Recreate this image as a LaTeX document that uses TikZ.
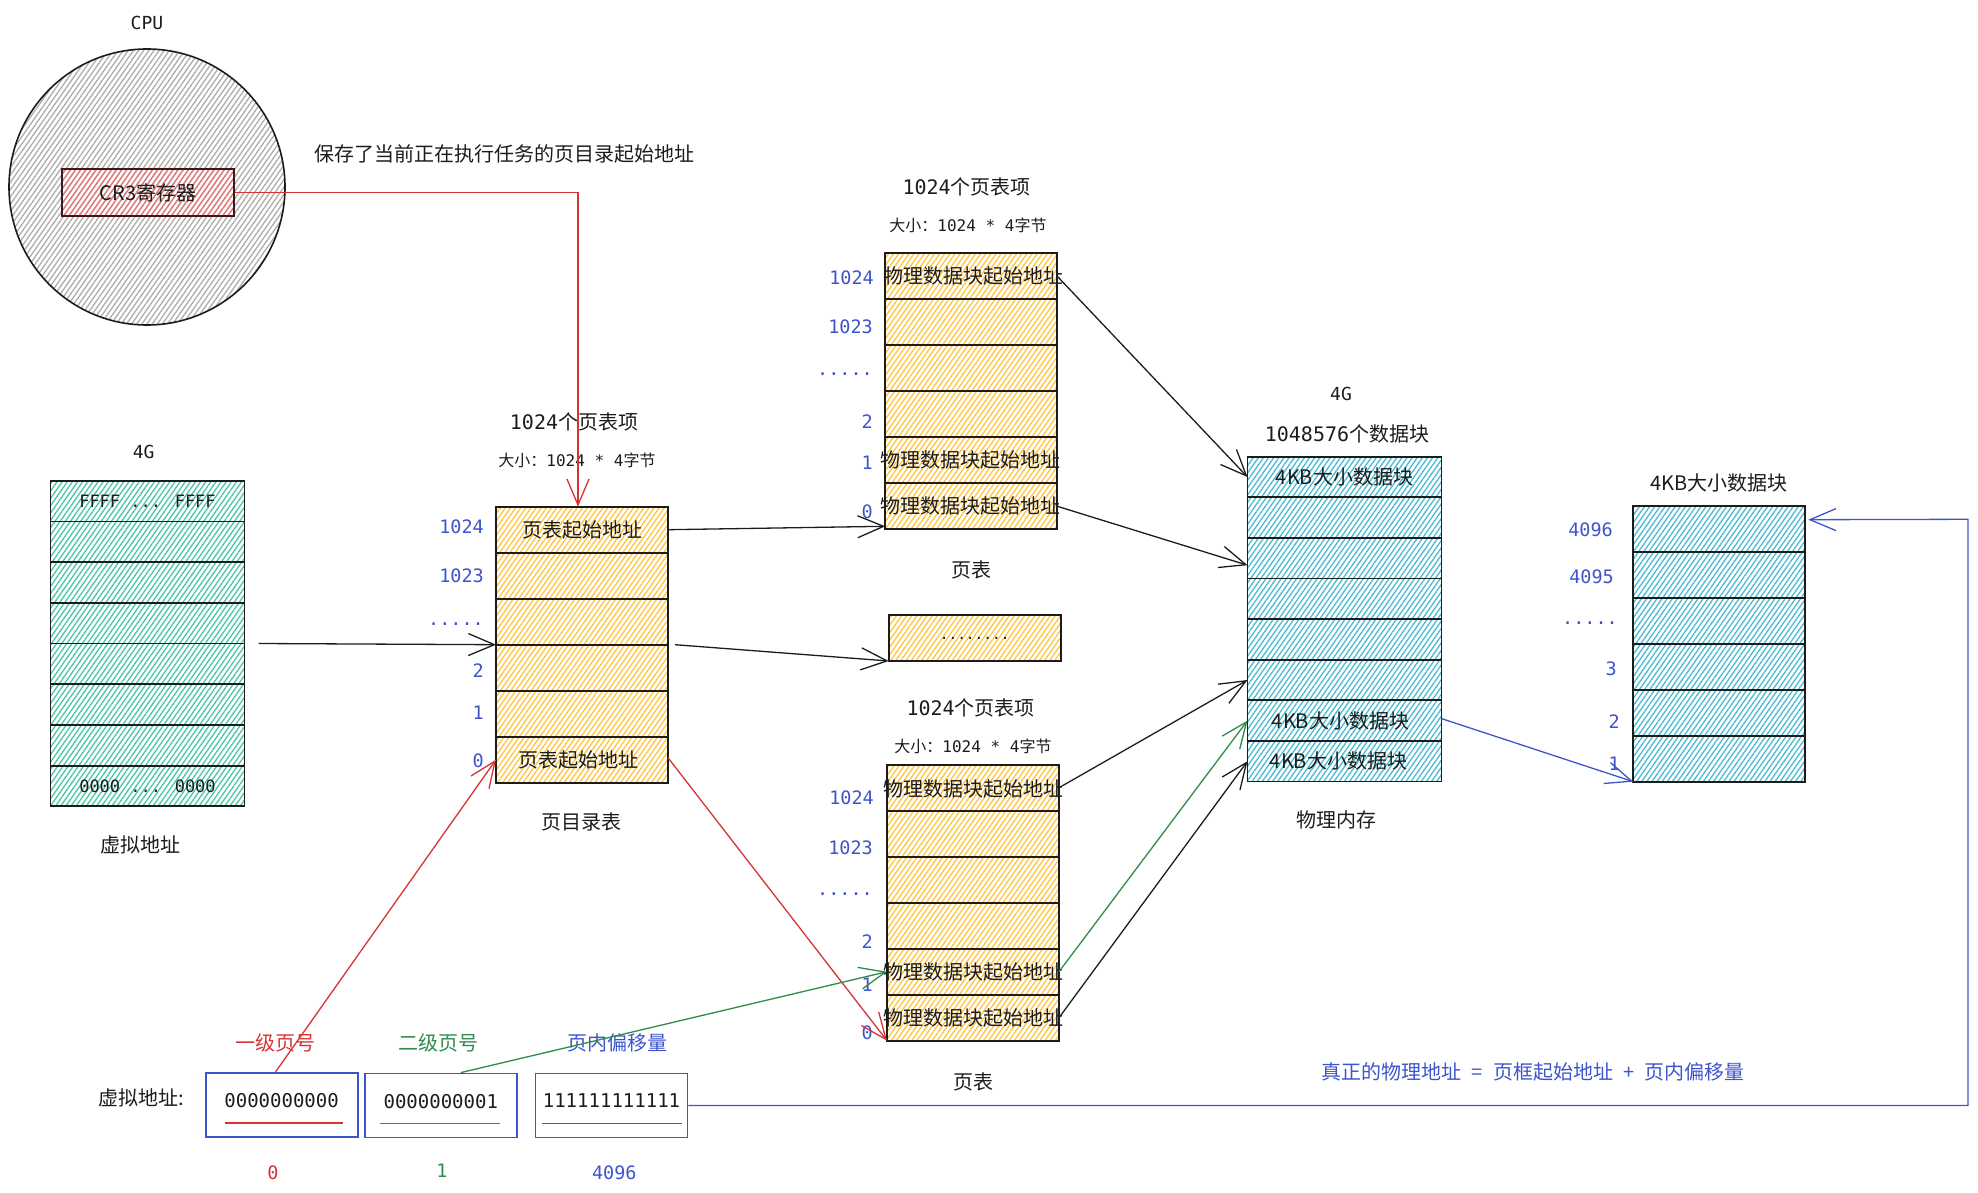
\documentclass[tikz,border=0pt]{standalone}
\usepackage{fontspec}
\setmainfont{Noto Sans CJK SC}
\newfontfamily\mono{DejaVu Sans Mono}
\usetikzlibrary{patterns.meta,arrows.meta,calc}

\definecolor{lblue}{RGB}{62,84,204}
\definecolor{lred}{RGB}{214,52,52}
\definecolor{lgreen}{RGB}{46,140,72}
\definecolor{hgray}{RGB}{172,172,172}
\definecolor{hred}{RGB}{232,118,118}
\definecolor{horange}{RGB}{255,196,58}
\definecolor{hteal}{RGB}{72,198,164}
\definecolor{hcyan}{RGB}{72,186,210}
\definecolor{ink}{RGB}{28,28,28}

\tikzset{
  hatch/.style={pattern={Lines[angle=55,distance=4.2pt,line width=1.3pt]},pattern color=#1},
  cell/.style={draw=ink,line width=1.8pt,inner sep=0pt,outer sep=0pt,anchor=north west,
    text=ink,font=\fontsize{20}{20}\selectfont},
  ocell/.style={cell,hatch=horange,minimum width=172pt,minimum height=46pt},
  tcell/.style={cell,hatch=hteal,minimum width=194pt,minimum height=40.7pt},
  ccell/.style={cell,hatch=hcyan,minimum width=194pt,minimum height=40.6pt},
  kcell/.style={cell,hatch=hcyan,minimum width=172pt,minimum height=46pt},
  lab/.style={font=\fontsize{20}{20}\selectfont,text=ink,inner sep=0pt},
  monolab/.style={font=\mono\fontsize{18}{18}\selectfont,text=ink,inner sep=0pt},
  small/.style={font=\fontsize{16}{16}\selectfont,text=ink,inner sep=0pt},
  idx/.style={font=\mono\fontsize{18.5}{19}\selectfont,text=lblue,inner sep=0pt,anchor=east},
  addrbox/.style={draw=lblue,line width=1.8pt,inner sep=0pt,minimum width=152pt,minimum height=64pt,
    text=ink,font=\mono\fontsize{19}{19}\selectfont},
  link/.style={line width=1.3pt,-{Straight Barb[length=26pt,width=22pt,line width=1.3pt]}},
}

\begin{document}
\begin{tikzpicture}[x=1pt,y=-1pt]
\useasboundingbox (0,0) rectangle (1978,1193);

% ---------- CPU with the CR3 register ----------
\node[monolab] (cpulab) at (147,23) {CPU};
\node[circle,draw=ink,line width=1.6pt,hatch=hgray,minimum size=276pt,inner sep=0pt] (cpu) at (147,187) {};
\node[draw=ink!85!red,line width=1.3pt,hatch=hred,minimum width=172pt,minimum height=47pt,
      inner sep=0pt,text=ink,font=\fontsize{20}{20}\selectfont] (cr3) at (148,192.5) {CR3寄存器};
\node[lab] (cr3note) at (504,154) {保存了当前正在执行任务的页目录起始地址};

% ---------- virtual address space ----------
\node[monolab] (vatitle) at (143.7,451.7) {4G};
\foreach \i in {1,...,8}
  \node[tcell] (va\i) at (50.5,{480.7+40.7*(\i-1)}) {};
\node[monolab,font=\mono\fontsize{17}{17}\selectfont] (vatop) at (va1.center) {FFFF ... FFFF};
\node[monolab,font=\mono\fontsize{17}{17}\selectfont] (vabot) at (va8.center) {0000 ... 0000};
\node[lab] (vaname) at (140,845) {虚拟地址};

% ---------- page directory ----------
\node[lab] (pdtitle) at (574,421.7) {{\mono 1024}个页表项};
\node[small] (pdsize) at (577,460) {大小：{\mono 1024 * 4}字节};
\foreach \i in {1,...,6}
  \node[ocell] (pd\i) at (496,{506.7+46*(\i-1)}) {};
\node[lab] (pdtxt1) at (pd1.center) {页表起始地址};
\node[lab] (pdtxt6) at ([xshift=-4pt]pd6.center) {页表起始地址};
\node[lab] (pdname) at (581,822) {页目录表};
\node[idx] (pdi1) at (484,527) {1024};
\node[idx] (pdi2) at (484,576) {1023};
\node[idx] (pdi3) at (484,624) {.....};
\node[idx] (pdi4) at (484,671) {2};
\node[idx] (pdi5) at (484,713) {1};
\node[idx] (pdi6) at (484,761) {0};

% ---------- first page table ----------
\node[lab] (tatitle) at (966.7,187.3) {{\mono 1024}个页表项};
\node[small] (tasize) at (968,225.7) {大小：{\mono 1024 * 4}字节};
\foreach \i in {1,...,6}
  \node[ocell] (ta\i) at (885.3,{253.3+46*(\i-1)}) {};
\node[lab] (tatxt1) at ([xshift=2pt]ta1.center) {\makebox[0pt]{物理数据块起始地址}};
\node[lab] (tatxt5) at ([xshift=-1pt]ta5.center) {\makebox[0pt]{物理数据块起始地址}};
\node[lab] (tatxt6) at ([xshift=-1pt]ta6.center) {\makebox[0pt]{物理数据块起始地址}};
\node[lab] (taname) at (971.7,570) {页表};
\node[idx] (tai1) at (874,278) {1024};
\node[idx] (tai2) at (873,326.7) {1023};
\node[idx] (tai3) at (873,374) {.....};
\node[idx] (tai4) at (873,421.7) {2};
\node[idx] (tai5) at (873,463) {1};
\node[idx] (tai6) at (873,511.7) {0};

% ---------- further page tables ----------
\node[ocell,font=\mono\fontsize{14.5}{15}\selectfont] (dots) at (888.7,615) {........};

% ---------- second page table ----------
\node[lab] (tbtitle) at (970.7,708.3) {{\mono 1024}个页表项};
\node[small] (tbsize) at (973,746.7) {大小：{\mono 1024 * 4}字节};
\foreach \i in {1,...,6}
  \node[ocell] (tb\i) at (887,{764.7+46*(\i-1)}) {};
\node[lab] (tbtxt1) at ([yshift=-1pt]tb1.center) {\makebox[0pt]{物理数据块起始地址}};
\node[lab] (tbtxt5) at (tb5.center) {\makebox[0pt]{物理数据块起始地址}};
\node[lab] (tbtxt6) at (tb6.center) {\makebox[0pt]{物理数据块起始地址}};
\node[lab] (tbname) at (973,1081.7) {页表};
\node[idx] (tbi1) at (874,798) {1024};
\node[idx] (tbi2) at (873,847.3) {1023};
\node[idx] (tbi3) at (873,894) {.....};
\node[idx] (tbi4) at (873,941.7) {2};
\node[idx] (tbi5) at (873,985) {1};
\node[idx] (tbi6) at (873,1032.3) {0};

% ---------- physical memory ----------
\node[monolab] (pmtitle) at (1341,394) {4G};
\node[lab] (pmcount) at (1347,434) {{\mono 1048576}个数据块};
\foreach \i in {1,...,8}
  \node[ccell] (pm\i) at (1247.5,{456.7+40.6*(\i-1)}) {};
\node[lab] (pmtxt1) at (pm1.center) {4KB大小数据块};
\node[lab] (pmtxt7) at ([xshift=-4pt]pm7.center) {4KB大小数据块};
\node[lab] (pmtxt8) at ([xshift=-6pt]pm8.center) {4KB大小数据块};
\node[lab] (pmname) at (1336,820) {物理内存};

% ---------- one 4KB block ----------
\node[lab] (kbtitle) at (1719.3,482.7) {4KB大小数据块};
\foreach \i in {1,...,6}
  \node[kcell] (kb\i) at (1633.3,{505.7+46*(\i-1)}) {};
\node[idx] (kbi1) at (1613,530) {4096};
\node[idx] (kbi2) at (1614,576.7) {4095};
\node[idx] (kbi3) at (1618,623) {.....};
\node[idx] (kbi4) at (1617,668.3) {3};
\node[idx] (kbi5) at (1620,721.7) {2};
\node[idx] (kbi6) at (1620,763.3) {1};

% ---------- the virtual address split into fields ----------
\node[lab] (vaddr) at (141,1098.3) {虚拟地址:};
\node[addrbox] (vb1) at (281.6,1104.7) {\raisebox{9pt}{0000000000}};
\node[addrbox] (vb2) at (440.8,1105.5) {\raisebox{9pt}{0000000001}};
\node[addrbox] (vb3) at (611.5,1105.5) {\raisebox{9pt}{111111111111}};
\draw[lred,line width=1.8pt] ([xshift=20pt,yshift=15pt]vb1.south west) -- ([xshift=-16pt,yshift=15pt]vb1.south east);
\draw[lgreen,line width=1.8pt] ([xshift=16pt,yshift=15pt]vb2.south west) -- ([xshift=-18pt,yshift=15pt]vb2.south east);
\draw[lblue,line width=1.8pt] ([xshift=7pt,yshift=15pt]vb3.south west) -- ([xshift=-6pt,yshift=15pt]vb3.south east);
\node[lab,text=lred] (f1) at (275.5,1042.7) {一级页号};
\node[lab,text=lgreen] (f2) at (438.5,1042.7) {二级页号};
\node[lab,text=lblue] (f3) at (617.5,1042.7) {页内偏移量};
\node[monolab,text=lred,font=\mono\fontsize{18.5}{19}\selectfont] (v1) at (273,1172.3) {0};
\node[monolab,text=lgreen,font=\mono\fontsize{18.5}{19}\selectfont] (v2) at (442,1170.7) {1};
\node[monolab,text=lblue,font=\mono\fontsize{18.5}{19}\selectfont] (v3) at (614.3,1172.3) {4096};
\node[lab,text=lblue] (formula) at (1533,1071.7) {真正的物理地址\enspace =\enspace 页框起始地址\enspace +\enspace 页内偏移量};

% ---------- connectors ----------
\coordinate (rcorner) at (1968,519.3);
\draw[link,lred] (cr3.east) -| ([xshift=-4pt]pd1.north);
\draw[link,ink] ([xshift=14pt]va4.south east) -- (pd3.south west);
\draw[link,ink] (pd1.east) -- ([yshift=-20pt]ta6.west);
\draw[link,ink] ([xshift=7pt]pd3.south east) -- (dots.south west);
\draw[link,lred] ([yshift=2pt]pd6.east) -- (tb6.south west);
\draw[link,lred] ([xshift=-6pt]vb1.north) -- (pd6.west);
\draw[link,lgreen] ([xshift=20pt]vb2.north) -- (tb5.west);
\draw[link,lgreen] (tb5.east) -- (pm7.west);
\draw[link,ink] (ta1.east) -- (pm1.west);
\draw[link,ink] (ta6.east) -- ([yshift=-7pt]pm3.west);
\draw[link,ink] (tb1.east) -- (pm6.west);
\draw[link,ink] (tb6.east) -- (pm8.west);
\draw[link,lblue] ([yshift=2pt]pm7.east) -- (kb6.south west);
\draw[link,lblue] (vb3.east) -| (rcorner) -- ([xshift=3pt,yshift=9pt]kb1.east);
\end{tikzpicture}
\end{document}
